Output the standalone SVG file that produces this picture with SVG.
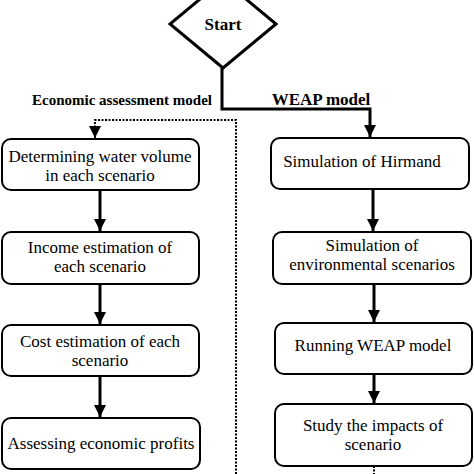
<svg xmlns="http://www.w3.org/2000/svg" width="474" height="474" viewBox="0 0 474 474">
<style>
.box{fill:#fff;stroke:#000;stroke-width:2}
.t{font-family:"Liberation Serif","Times New Roman",serif;font-size:17px;text-anchor:middle;fill:#000}
.b{font-family:"Liberation Serif","Times New Roman",serif;font-weight:bold;fill:#000}
.c{fill:none;stroke:#000;stroke-width:3}
.d{fill:none;stroke:#000;stroke-width:2;stroke-dasharray:2 1.5}
</style>
<defs>
<marker id="ah" markerUnits="userSpaceOnUse" markerWidth="14" markerHeight="14" viewBox="0 0 14 14" refX="12" refY="7" orient="auto">
<path d="M0,1 L12,7 L0,13 Z" fill="#000"/>
</marker>
</defs>
<rect width="474" height="474" fill="#fff"/>
<g id="start">
<polygon points="223,-20 276,24 223,68 170,24" fill="#fff" stroke="#000" stroke-width="3"/>
<text class="b" x="223" y="30" font-size="17" text-anchor="middle">Start</text>
</g>
<g id="labels">
<text class="b" x="122" y="105" font-size="15" text-anchor="middle">Economic assessment model</text>
<text class="b" x="321" y="105" font-size="17" text-anchor="middle">WEAP model</text>
</g>
<g id="connectors">
<path class="c" d="M222,68 V109 H370 V137" marker-end="url(#ah)"/>
<path class="d" d="M236,474 V120 H95 V138" marker-end="url(#ah)"/>
<path class="c" d="M100,190 V231" marker-end="url(#ah)"/>
<path class="c" d="M100,284 V324" marker-end="url(#ah)"/>
<path class="c" d="M100,376 V417" marker-end="url(#ah)"/>
<path class="c" d="M373,189 V231" marker-end="url(#ah)"/>
<path class="c" d="M374,284 V322" marker-end="url(#ah)"/>
<path class="c" d="M374,374 V403" marker-end="url(#ah)"/>
<path class="d" d="M374,466 V474"/>
</g>
<g id="n1">
<rect class="box" x="2" y="139" width="197" height="51" rx="9"/>
<text class="t" x="100" y="162">Determining water volume</text>
<text class="t" x="100" y="181">in each scenario</text>
</g>
<g id="n2">
<rect class="box" x="2" y="232" width="197" height="52" rx="9"/>
<text class="t" x="100" y="253">Income estimation of</text>
<text class="t" x="100" y="272">each scenario</text>
</g>
<g id="n3">
<rect class="box" x="2" y="325" width="197" height="51" rx="9"/>
<text class="t" x="100" y="347">Cost estimation of each</text>
<text class="t" x="100" y="366">scenario</text>
</g>
<g id="n4">
<rect class="box" x="2" y="418" width="198" height="51" rx="9"/>
<text class="t" x="101" y="449">Assessing economic profits</text>
</g>
<g id="r1">
<rect class="box" x="271" y="138" width="198" height="51" rx="9"/>
<text class="t" x="362" y="167">Simulation of Hirmand</text>
</g>
<g id="r2">
<rect class="box" x="273" y="232" width="198" height="52" rx="9"/>
<text class="t" x="372" y="251">Simulation of</text>
<text class="t" x="372" y="270">environmental scenarios</text>
</g>
<g id="r3">
<rect class="box" x="275" y="323" width="197" height="51" rx="9"/>
<text class="t" x="373" y="351">Running WEAP model</text>
</g>
<g id="r4">
<rect class="box" x="275" y="404" width="197" height="62" rx="9"/>
<text class="t" x="373" y="431">Study the impacts of</text>
<text class="t" x="373" y="450">scenario</text>
</g>
</svg>
